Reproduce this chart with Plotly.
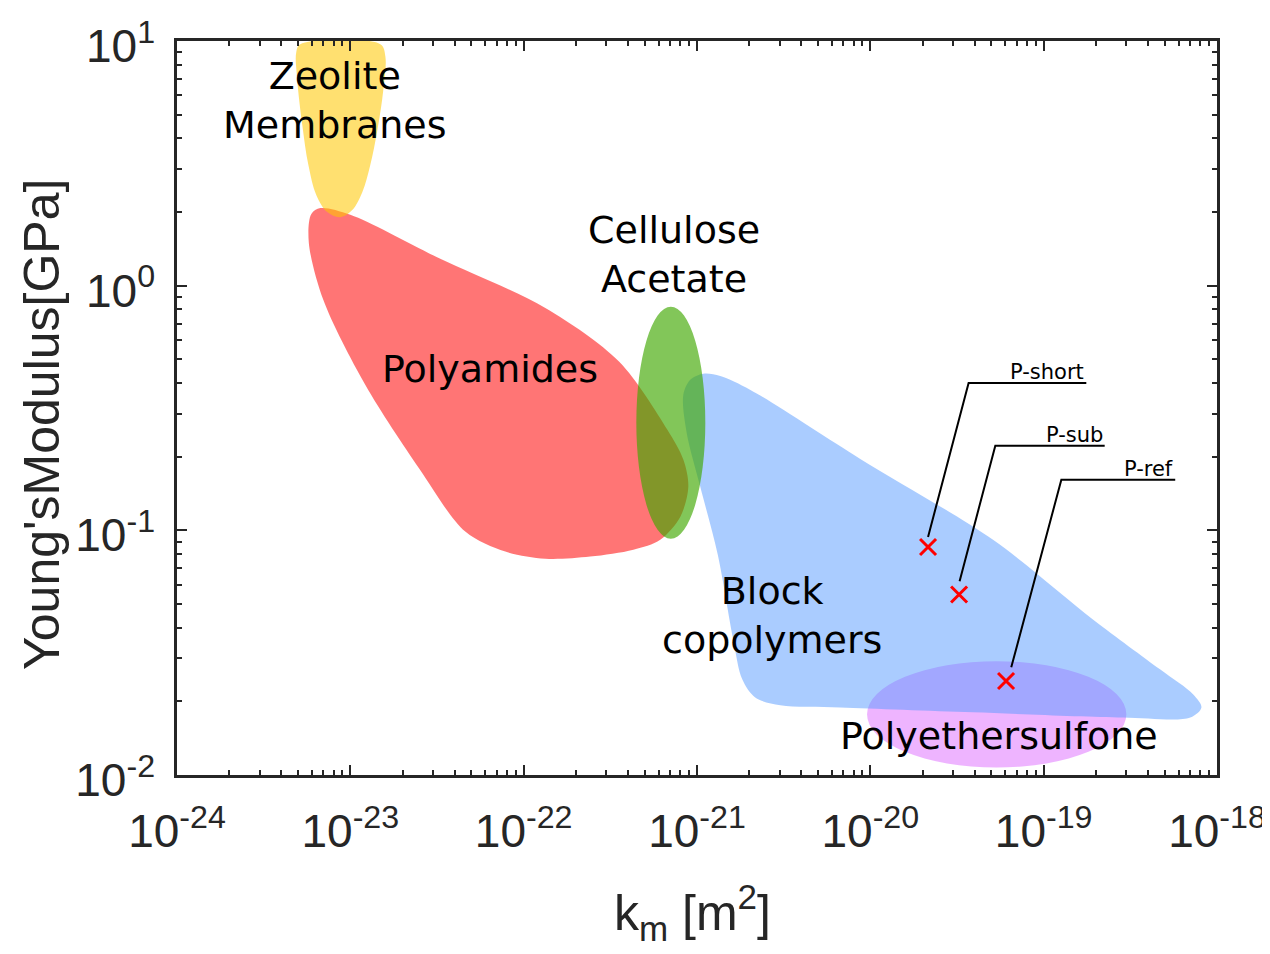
import plotly.graph_objects as go

# ---------------- data (log10 exponents) ----------------
# Region outlines: log10(k_m [m^2]) and log10(E [GPa])
zeolite_lx = [-23.289, -22.827, -22.798, -22.810, -22.844, -22.885, -22.931, -22.989,
              -23.058, -23.133, -23.196, -23.242, -23.277, -23.306, -23.312]
zeolite_ly = [0.987, 0.987, 0.938, 0.799, 0.636, 0.493, 0.382, 0.309,
              0.280, 0.301, 0.370, 0.493, 0.656, 0.840, 0.954]

polyamide_lx = [-23.173, -23.000, -22.481, -21.875, -21.450,
                -21.171, -21.079, -21.050, -21.096, -21.212, -21.367, -21.616, -21.875,
                -22.106, -22.337, -22.600, -22.914, -23.156,
                -23.240, -23.225]
polyamide_ly = [0.317, 0.290, 0.110, -0.091, -0.310,
                -0.589, -0.711, -0.822, -0.944, -1.038, -1.079, -1.107, -1.116,
                -1.087, -1.005, -0.750, -0.405, -0.058,
                0.180, 0.293]

block_lx = [-21.039, -20.964, -20.866, -20.692, -20.058, -19.290, -18.714,
            -18.327, -18.137, -18.090, -18.154, -18.541, -19.406, -20.173, -20.519,
            -20.664, -20.739, -20.791, -20.880, -20.981, -21.060,
            -21.079]
block_ly = [-0.385, -0.360, -0.369, -0.426, -0.708, -1.040, -1.365,
            -1.569, -1.671, -1.724, -1.765, -1.765, -1.744, -1.724, -1.715,
            -1.683, -1.609, -1.446, -1.100, -0.822, -0.600,
            -0.446]

# Elliptical regions: [x_min, x_max] and [y_min, y_max] exponents
cellulose_lx = [-21.350, -20.952]
cellulose_ly = [-1.034, -0.086]
pes_lx = [-20.019, -18.523]
pes_ly = [-1.969, -1.535]

# Measured samples
sample_names = ["P-short", "P-sub", "P-ref"]
sample_lx = [-19.667, -19.488, -19.217]
sample_ly = [-1.068, -1.262, -1.616]

# Leader lines for sample labels: start, elbow, end
leader_start_lx = [-19.667, -19.485, -19.187]
leader_start_ly = [-1.027, -1.208, -1.560]
leader_elbow_lx = [-19.433, -19.279, -18.898]
leader_elbow_ly = [-0.398, -0.654, -0.793]
leader_end_lx = [-18.754, -18.648, -18.241]

# Region labels
region_labels = ["Zeolite<br>Membranes", "Cellulose<br>Acetate", "Polyamides",
                 "Block<br>copolymers", "Polyethersulfone"]
region_label_lx = [-23.09, -21.131, -22.192, -20.566, -19.256]
region_label_ly = [0.758, 0.128, -0.341, -1.347, -1.840]

# Axis ticks
x_tick_exp = [-24, -23, -22, -21, -20, -19, -18]
y_tick_exp = [-2, -1, 0, 1]
minor_digits = [2, 3, 4, 5, 6, 7, 8, 9]

# ---------------- figure ----------------
AX = "#262626"
def pw(v):
    return [10 ** e for e in v]

def closed(v):
    return list(v) + [v[0]]

fig = go.Figure()

# Polyamides (red)
fig.add_trace(go.Scatter(x=pw(closed(polyamide_lx)), y=pw(closed(polyamide_ly)),
                         mode="lines", line=dict(width=0, shape="spline", smoothing=0.9),
                         fill="toself", fillcolor="rgba(255,0,0,0.54)",
                         hoverinfo="skip", showlegend=False))
# Zeolite (yellow)
fig.add_trace(go.Scatter(x=pw(closed(zeolite_lx)), y=pw(closed(zeolite_ly)),
                         mode="lines", line=dict(width=0, shape="spline"),
                         fill="toself", fillcolor="rgba(255,200,0,0.56)",
                         hoverinfo="skip", showlegend=False))
# Block copolymers (blue)
fig.add_trace(go.Scatter(x=pw(closed(block_lx)), y=pw(closed(block_ly)),
                         mode="lines", line=dict(width=0, shape="spline", smoothing=0.9),
                         fill="toself", fillcolor="rgba(85,153,255,0.5)",
                         hoverinfo="skip", showlegend=False))

# leader lines
for i in range(len(sample_names)):
    fig.add_trace(go.Scatter(
        x=pw([leader_start_lx[i], leader_elbow_lx[i], leader_end_lx[i]]),
        y=pw([leader_start_ly[i], leader_elbow_ly[i], leader_elbow_ly[i]]),
        mode="lines", line=dict(color="black", width=2),
        hoverinfo="skip", showlegend=False))
    fig.add_annotation(x=leader_end_lx[i], y=leader_elbow_ly[i],
                       text=sample_names[i], showarrow=False,
                       xanchor="right", yanchor="bottom", yshift=-3,
                       font=dict(family="DejaVu Sans", size=21, color="black"))

# sample markers
fig.add_trace(go.Scatter(x=pw(sample_lx), y=pw(sample_ly), mode="markers",
                         marker=dict(symbol="x-thin", size=16,
                                     line=dict(color="red", width=3)),
                         showlegend=False))

# ellipses
fig.add_shape(type="circle", xref="x", yref="y", layer="below",
              x0=10 ** pes_lx[0], x1=10 ** pes_lx[1],
              y0=10 ** pes_ly[0], y1=10 ** pes_ly[1],
              fillcolor="rgba(221,105,255,0.5)", line=dict(width=0))
fig.add_shape(type="circle", xref="x", yref="y", layer="above",
              x0=10 ** cellulose_lx[0], x1=10 ** cellulose_lx[1],
              y0=10 ** cellulose_ly[0], y1=10 ** cellulose_ly[1],
              fillcolor="rgba(63,167,0,0.65)", line=dict(width=0))

for t, lx, ly in zip(region_labels, region_label_lx, region_label_ly):
    fig.add_annotation(x=lx, y=ly, text=t, showarrow=False,
                       xanchor="center", yanchor="middle",
                       font=dict(family="DejaVu Sans", size=38, color="black"))

# axis titles
fig.add_annotation(xref="paper", yref="paper", x=0.496, y=-0.187,
                   text="k<sub>m</sub> [m<sup>2</sup>]", showarrow=False,
                   xanchor="center", yanchor="middle",
                   font=dict(family="Liberation Sans", size=50, color=AX))
fig.add_annotation(xref="paper", yref="paper", x=-0.130, y=0.478,
                   text="Young'sModulus[GPa]", showarrow=False, textangle=-90,
                   xanchor="center", yanchor="middle",
                   font=dict(family="Liberation Sans", size=50, color=AX))

def axis_common():
    return dict(type="log", showgrid=False, zeroline=False, automargin=False,
                showline=True, linecolor=AX, linewidth=2.5, mirror="allticks",
                ticks="inside", ticklen=10, tickwidth=2, tickcolor=AX,
                tickfont=dict(family="Liberation Sans", size=46, color=AX))

xa = axis_common()
xa.update(range=[-24, -18], tickmode="array",
          tickvals=[10 ** e for e in x_tick_exp],
          ticktext=["10<sup>%d</sup>" % e for e in x_tick_exp],
          minor=dict(ticks="inside", ticklen=5, tickwidth=2, tickcolor=AX,
                     tickmode="array",
                     tickvals=[d * 10 ** e for e in x_tick_exp[:-1] for d in minor_digits]),
          ticklabelstandoff=14)
ya = axis_common()
ya.update(range=[-2, 1], tickmode="array",
          tickvals=[10 ** e for e in y_tick_exp],
          ticktext=["10<sup>%d</sup>" % e for e in y_tick_exp],
          minor=dict(ticks="inside", ticklen=5, tickwidth=2, tickcolor=AX,
                     tickmode="array",
                     tickvals=[d * 10 ** e for e in y_tick_exp[:-1] for d in minor_digits]),
          ticklabelstandoff=10, ticklabelshift=5)

# the page body adds an 8 px offset, compensated in the margins
fig.update_layout(width=1270, height=954, autosize=False,
                  margin=dict(l=169, r=61, t=33, b=187),
                  plot_bgcolor="white", paper_bgcolor="white",
                  xaxis=xa, yaxis=ya, showlegend=False)

fig.write_html("out.html")
